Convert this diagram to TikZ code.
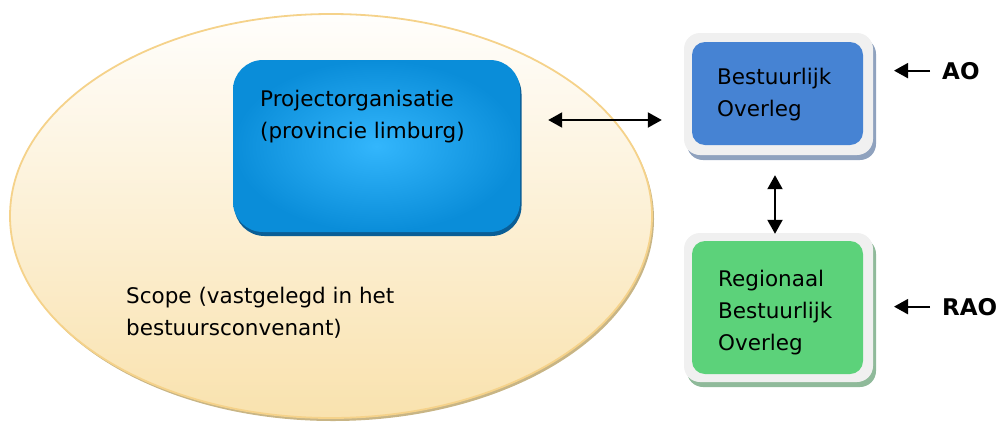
\documentclass[tikz,border=0pt]{standalone}
\usepackage{fontspec}
\setmainfont{DejaVu Sans}
\usetikzlibrary{arrows.meta,shapes.geometric}
\definecolor{ellbord}{HTML}{F5D28A}
\definecolor{ellshadow}{HTML}{C8B585}
\definecolor{elltop}{HTML}{FFFEFC}
\definecolor{ellbot}{HTML}{F9E2AE}
\definecolor{projin}{HTML}{33B6FC}
\definecolor{projout}{HTML}{0A8DD9}
\definecolor{projshadow}{HTML}{0A5E96}
\definecolor{frame}{HTML}{F0F0F0}
\definecolor{boblue}{HTML}{4683D3}
\definecolor{boshadow}{HTML}{8FA2BE}
\definecolor{rgreen}{HTML}{5CD27A}
\definecolor{rshadow}{HTML}{8FBA9A}
\tikzset{
  txt/.style={anchor=base west, inner sep=0pt, font=\fontsize{21.5}{32}\selectfont},
  boldtxt/.style={anchor=base west, inner sep=0pt, font=\fontsize{23}{32}\selectfont\bfseries},
  outerbox/.style={rectangle, rounded corners=16pt, fill=frame, inner sep=0pt},
  innerbox/.style={rectangle, rounded corners=13pt, inner sep=0pt},
  conn/.style={line width=2pt, {Triangle[length=14pt,width=15pt]}-{Triangle[length=14pt,width=15pt]}},
  sarrow/.style={line width=2pt, -{Triangle[length=14pt,width=15pt]}},
}
\begin{document}
\begin{tikzpicture}[x=1pt,y=-1pt]
\useasboundingbox (0,0) rectangle (1000,421);
% scope ellipse
\fill[ellshadow] (333,219) ellipse [x radius=321, y radius=202];
\node[ellipse, minimum width=642pt, minimum height=404pt, inner sep=0pt,
  top color=elltop, bottom color=ellbot, draw=ellbord, line width=1.8pt] (scope) at (331,216) {};
\node[txt] (scopet1) at (126,303) {Scope (vastgelegd in het};
\node[txt] (scopet2) at (126,335) {bestuursconvenant)};
% project organisation
\node[rectangle, rounded corners=30pt, fill=projshadow, minimum width=287pt, minimum height=172pt, inner sep=0pt] (projsh) at (378,150) {};
\node[rectangle, rounded corners=30pt, inner color=projin, outer color=projout, minimum width=287pt, minimum height=172pt, inner sep=0pt] (proj) at (376.5,146) {};
\node[txt] (projt1) at (260,106) {Projectorganisatie};
\node[txt] (projt2) at (260,138) {(provincie limburg)};
% Bestuurlijk overleg
\node[outerbox, fill=boshadow, minimum width=189pt, minimum height=122pt] (bosh) at (781.5,99) {};
\node[outerbox, minimum width=189pt, minimum height=122pt] (bo) at (778.5,94) {};
\node[innerbox, fill=boblue, minimum width=171pt, minimum height=103pt] (boin) at (777.5,93.5) {};
\node[txt] (bot1) at (717,84) {Bestuurlijk};
\node[txt] (bot2) at (717,116) {Overleg};
% Regionaal bestuurlijk overleg
\node[outerbox, fill=rshadow, minimum width=189pt, minimum height=149pt] (rbosh) at (781.5,312.5) {};
\node[outerbox, minimum width=189pt, minimum height=149pt] (rbo) at (778.5,307.5) {};
\node[innerbox, fill=rgreen, minimum width=171pt, minimum height=133pt] (rboin) at (777.5,307.5) {};
\node[txt] (rbot1) at (718,286) {Regionaal};
\node[txt] (rbot2) at (718,318) {Bestuurlijk};
\node[txt] (rbot3) at (718,350) {Overleg};
% labels
\node[boldtxt] (ao) at (942,79) {AO};
\node[boldtxt] (rao) at (942,315) {RAO};
% connectors
\draw[conn] ([xshift=28pt,yshift=26pt]proj.east) -- ([xshift=-22pt,yshift=26pt]bo.west |- proj.east);
\draw[conn] ([yshift=-20pt]bo.south -| 775,0) -- ([yshift=-1pt]rbo.north -| 775,0);
\draw[sarrow] ([xshift=-12pt]ao.west) -- ([xshift=-48pt]ao.west);
\draw[sarrow] ([xshift=-12pt]rao.west) -- ([xshift=-48pt]rao.west);
\end{tikzpicture}
\end{document}
